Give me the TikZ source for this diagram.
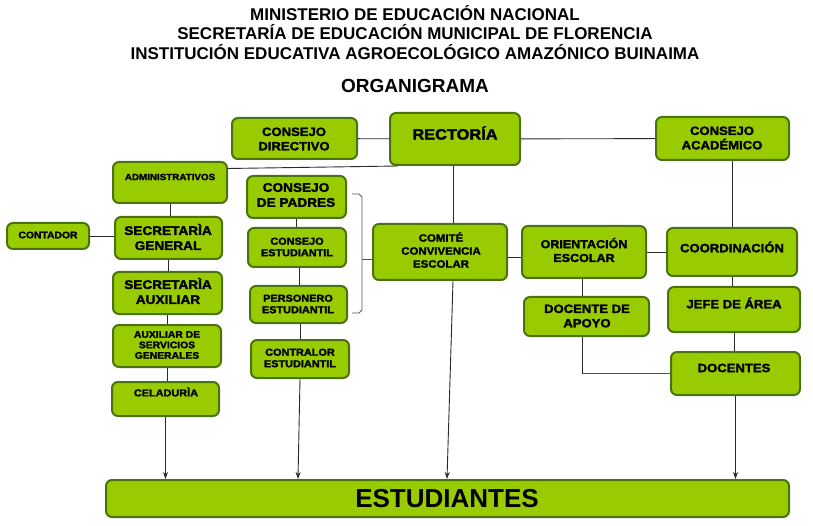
\documentclass[tikz,border=0pt]{standalone}
\usepackage{fontspec}
\setmainfont{Liberation Sans}
\newfontfamily\heavy{Liberation Sans}[BoldFont={Liberation Sans Bold}, BoldFeatures={FakeBold=2.2, FakeStretch=1.09}]
\usetikzlibrary{arrows.meta}
\definecolor{boxfill}{HTML}{99CC00}
\definecolor{boxdraw}{HTML}{4A7310}
\definecolor{conn}{HTML}{2A2A2A}
\definecolor{greenline}{HTML}{3F6B0A}
\tikzset{
  box/.style={draw=boxdraw, line width=2pt, fill=boxfill, rounded corners=6pt, inner sep=0pt},
  lbl/.style={align=center, inner sep=0pt, text=black},
  link/.style={draw=conn, line width=0.9pt},
  arr/.style={link, -{Stealth[length=7pt,width=5pt]}},
  title/.style={inner sep=0pt, font=\bfseries\fontsize{17}{17}\selectfont},
}
\newcommand\fs[1]{\heavy\bfseries\fontsize{#1}{\dimexpr#1pt*6/5\relax}\selectfont}
\newcommand\bx[5]{\node[box, minimum width={#4pt-#2pt}, minimum height={#5pt-#3pt}] (#1) at ({(#2+#4)/2},{(#3+#5)/2}) {};}
\begin{document}
\begin{tikzpicture}[x=1pt, y=-1pt]
\useasboundingbox (0,0) rectangle (813,526);
% titles
\node[title] (t1) at (415,13) {MINISTERIO DE EDUCACIÓN NACIONAL};
\node[title] (t2) at (415,32) {SECRETARÍA DE EDUCACIÓN MUNICIPAL DE FLORENCIA};
\node[title] (t3) at (415,52) {INSTITUCIÓN EDUCATIVA AGROECOLÓGICO AMAZÓNICO BUINAIMA};
\node[inner sep=0pt, font=\bfseries\fontsize{19}{19}\selectfont] (t4) at (415,86) {ORGANIGRAMA};

% boxes
\bx{cdir}{232}{118}{357}{159}
\bx{rect}{390}{113}{520}{165}
\bx{cacad}{656}{117}{789}{160}
\bx{admin}{113}{162}{227}{203}
\bx{contador}{7}{223}{89}{249}
\bx{secgen}{115}{217}{222}{259}
\bx{secaux}{113}{272}{222}{314}
\bx{auxserv}{113}{325}{221}{367}
\bx{celad}{112}{382}{219}{416}
\bx{padres}{247}{176}{346}{218}
\bx{consest}{248}{228}{346}{267}
\bx{personero}{250}{286}{347}{323}
\bx{contralor}{251}{340}{349}{378}
\bx{comite}{373}{224}{507}{280}
\bx{orient}{522}{226}{646}{278}
\bx{coord}{667}{228}{797}{276}
\bx{docapoyo}{524}{297}{649}{336}
\bx{jefe}{668}{287}{800}{332}
\bx{docentes}{671}{352}{800}{395}
\bx{est}{106}{480}{789}{517}

% texts
\node[lbl, font=\fs{12}] (l-cdir) at (294,139) {CONSEJO\\DIRECTIVO};
\node[lbl, font=\fs{15}] (l-rect) at (455,133) {RECTORÍA};
\node[lbl, font=\fs{12}] (l-cacad) at (722,138) {CONSEJO\\ACADÉMICO};
\node[lbl, font=\fs{9}] (l-admin) at (170,177) {ADMINISTRATIVOS};
\node[lbl, font=\fs{9.5}] (l-contador) at (48,235) {CONTADOR};
\node[lbl, font=\fs{12.5}] (l-secgen) at (168,237) {SECRETARÌA\\GENERAL};
\node[lbl, font=\fs{12.5}] (l-secaux) at (168,291) {SECRETARÌA\\AUXILIAR};
\node[lbl, font=\heavy\bfseries\fontsize{9.5}{10.5}\selectfont] (l-auxserv) at (167,345) {AUXILIAR DE\\SERVICIOS\\GENERALES};
\node[lbl, font=\fs{10}] (l-celad) at (166,392) {CELADURÌA};
\node[lbl, font=\fs{12.5}] (l-padres) at (296,195) {CONSEJO\\DE PADRES};
\node[lbl, font=\heavy\bfseries\fontsize{10}{11.5}\selectfont] (l-consest) at (297,247) {CONSEJO\\ESTUDIANTIL};
\node[lbl, font=\heavy\bfseries\fontsize{10}{11.5}\selectfont] (l-personero) at (298,304) {PERSONERO\\ESTUDIANTIL};
\node[lbl, font=\heavy\bfseries\fontsize{10}{11.5}\selectfont] (l-contralor) at (300,358) {CONTRALOR\\ESTUDIANTIL};
\node[lbl, font=\heavy\bfseries\fontsize{10.5}{13}\selectfont] (l-comite) at (441,250) {COMITÉ\\CONVIVENCIA\\ESCOLAR};
\node[lbl, font=\fs{11.5}] (l-orient) at (584,250) {ORIENTACIÓN\\ESCOLAR};
\node[lbl, font=\fs{12}] (l-coord) at (732,247) {COORDINACIÓN};
\node[lbl, font=\fs{12}] (l-docapoyo) at (587,316) {DOCENTE DE\\APOYO};
\node[lbl, font=\fs{12}] (l-jefe) at (734,303) {JEFE DE ÁREA};
\node[lbl, font=\fs{12}] (l-docentes) at (734,368) {DOCENTES};
\node[lbl, font=\bfseries\fontsize{26}{26}\selectfont] (l-est) at (447,499) {ESTUDIANTES};

% connectors
\draw[link] (cdir) -- (rect);
\draw[link] (rect) -- (cacad);
\coordinate (adminend) at (398,166);
\draw[link] ([yshift=14pt]admin.east) -- (adminend);
\draw[link] (admin.south) -- (admin.south |- secgen.north);
\draw[link] (contador) -- (contador -| secgen.west);
\draw[link] (secgen.south) -- (secgen.south |- secaux.north);
\draw[link] (secaux.south) -- (secaux.south |- auxserv.north);
\draw[link] (auxserv.south) -- (auxserv.south |- celad.north);
\draw[link] (padres.south) -- (padres.south |- consest.north);
\draw[link] ([xshift=2pt]consest.south) -- ([xshift=2pt]consest.south |- personero.north);
\draw[link] ([xshift=2pt]personero.south) -- ([xshift=2pt]personero.south |- contralor.north);
% bracket
\coordinate (bt) at (352,194);
\coordinate (bb) at (352,313);
\coordinate (bm) at (362,259);
\draw[draw=conn!80, line width=0.9pt] (bt) -- (359,194) -- (362,197) -- (362,310) -- (359,313) -- (bb);
\draw[draw=conn!80, line width=0.9pt] (bm) -- (bm -| comite.west);
\draw[link] ([xshift=-2pt]rect.south) -- ([xshift=-2pt]rect.south |- comite.north);
\draw[link] ([yshift=-5pt]comite.east) -- ([yshift=-5pt]comite.east -| orient.west);
\draw[link] (orient) -- (coord);
\draw[link] (coord.north) -- (coord.north |- cacad.south);
\draw[link] (coord.south) -- (coord.south |- jefe.north);
\draw[link] (jefe.south) -- (jefe.south |- docentes.north);
\draw[link] ([xshift=-2pt]orient.south) -- ([xshift=-2pt]orient.south |- docapoyo.north);
\coordinate (dacorner) at ([xshift=-4pt]docapoyo.south |- docentes.west);
\draw[link] ([xshift=-4pt]docapoyo.south) -- (dacorner);
\draw[draw=greenline, line width=1.4pt] (dacorner) -- (docentes.west);
% arrows to ESTUDIANTES
\draw[arr] (celad.south) -- (celad.south |- est.north);
\draw[arr] (contralor.south) -- ([xshift=-2pt]contralor.south |- est.north);
\draw[arr] ([xshift=13pt]comite.south) -- ([xshift=7pt]comite.south |- est.north);
\draw[arr] (docentes.south) -- (docentes.south |- est.north);
\end{tikzpicture}
\end{document}
